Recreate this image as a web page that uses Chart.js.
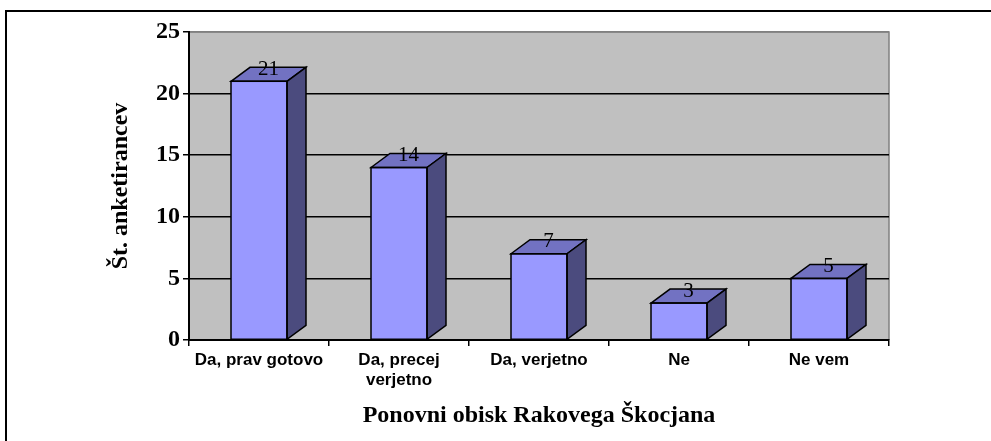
<!DOCTYPE html>
<html>
<head>
<meta charset="utf-8">
<script src="https://cdn.jsdelivr.net/npm/chart.js@4/dist/chart.umd.min.js"></script>
<style>
  html, body { margin: 0; padding: 0; background: #fff; }
  #wrap { position: relative; width: 991px; height: 441px; }
</style>
</head>
<body>
<div id="wrap"><canvas id="c" width="991" height="441"></canvas></div>
<script>
const categories = ['Da, prav gotovo', ['Da, precej', 'verjetno'], 'Da, verjetno', 'Ne', 'Ne vem'];
const values = [21, 14, 7, 3, 5];
const yAxisTitle = 'Št. anketirancev';
const xAxisTitle = 'Ponovni obisk Rakovega Škocjana';
const yMin = 0, yMax = 25, yStep = 5;

const DEPTH_X = 19, DEPTH_Y = 14;

const bgPlugin = {
  id: 'bg',
  beforeDraw(chart) {
    const { ctx, chartArea: a } = chart;
    ctx.save();
    ctx.fillStyle = '#C0C0C0';
    ctx.fillRect(a.left, a.top, a.right - a.left, a.bottom - a.top);
    ctx.strokeStyle = '#808080';
    ctx.lineWidth = 1.5;
    ctx.beginPath();
    ctx.moveTo(a.left, a.top);
    ctx.lineTo(a.right, a.top);
    ctx.lineTo(a.right, a.bottom);
    ctx.stroke();
    ctx.restore();
  },
  afterDraw(chart) {
    const { ctx } = chart;
    ctx.save();
    ctx.strokeStyle = '#000';
    ctx.lineWidth = 2;
    ctx.beginPath();
    ctx.moveTo(6, 441);
    ctx.lineTo(6, 11);
    ctx.lineTo(991, 11);
    ctx.stroke();
    ctx.restore();
  }
};

const bar3d = {
  id: 'bar3d',
  afterDatasetsDraw(chart) {
    const { ctx } = chart;
    const meta = chart.getDatasetMeta(0);
    ctx.save();
    ctx.lineWidth = 1.5;
    ctx.strokeStyle = '#000';
    ctx.lineJoin = 'miter';
    meta.data.forEach((bar, i) => {
      const p = bar.getProps(['x', 'y', 'base', 'width'], true);
      const l = p.x - p.width / 2, r = p.x + p.width / 2, t = p.y, b = p.base;
      // top face
      ctx.beginPath();
      ctx.moveTo(l, t);
      ctx.lineTo(l + DEPTH_X, t - DEPTH_Y);
      ctx.lineTo(r + DEPTH_X, t - DEPTH_Y);
      ctx.lineTo(r, t);
      ctx.closePath();
      ctx.fillStyle = '#7272C2';
      ctx.fill();
      ctx.stroke();
      // side face
      ctx.beginPath();
      ctx.moveTo(r, t);
      ctx.lineTo(r + DEPTH_X, t - DEPTH_Y);
      ctx.lineTo(r + DEPTH_X, b - DEPTH_Y);
      ctx.lineTo(r, b);
      ctx.closePath();
      ctx.fillStyle = '#4B4B7E';
      ctx.fill();
      ctx.stroke();
      // front outline
      ctx.strokeRect(l, t, p.width, b - t);
      // label
      ctx.fillStyle = '#000';
      ctx.font = '21px "Liberation Serif", "Times New Roman", serif';
      ctx.textAlign = 'center';
      ctx.textBaseline = 'middle';
      ctx.fillText(String(values[i]), p.x + DEPTH_X / 2, t - 12);
    });
    ctx.restore();
  }
};

new Chart(document.getElementById('c'), {
  type: 'bar',
  data: {
    labels: categories,
    datasets: [{
      data: values,
      backgroundColor: '#9999FF',
      borderColor: '#000',
      borderWidth: 0,
      categoryPercentage: 0.8,
      barPercentage: 0.5
    }]
  },
  options: {
    responsive: false,
    animation: false,
    events: [],
    layout: { padding: { top: 32, right: 102, left: 0, bottom: 0 } },
    plugins: { legend: { display: false }, tooltip: { enabled: false } },
    scales: {
      x: {
        afterFit(s) { s.height = 101; },
        grid: { display: true, drawOnChartArea: false, tickLength: 6, color: '#000', lineWidth: 1.5, offset: true },
        border: { display: true, color: '#000', width: 2 },
        ticks: {
          autoSkip: false, maxRotation: 0, minRotation: 0, padding: 4,
          color: '#000',
          font: { family: '"Liberation Sans", Arial, sans-serif', size: 17, weight: 'bold', lineHeight: 1.2 }
        },
        title: {
          display: true, text: xAxisTitle, color: '#000',
          font: { family: '"Liberation Serif", "Times New Roman", serif', size: 24, weight: 'bold', lineHeight: 1.2 },
          padding: { top: 0, bottom: 11 }
        }
      },
      y: {
        min: yMin, max: yMax,
        afterFit(s) { s.width = 189; },
        grid: {
          tickLength: 6,
          lineWidth: 1.5,
          color: (c) => (c.tick && c.tick.value === yMax ? '#808080' : '#000'),
          tickColor: '#000'
        },
        border: { display: true, color: '#000', width: 2 },
        ticks: {
          stepSize: yStep, padding: 3, color: '#000',
          font: { family: '"Liberation Serif", "Times New Roman", serif', size: 24, weight: 'bold' }
        },
        title: {
          display: true, text: yAxisTitle, color: '#000',
          font: { family: '"Liberation Serif", "Times New Roman", serif', size: 24, weight: 'bold', lineHeight: 1.2 },
          padding: { top: 106, bottom: 0 }
        }
      }
    }
  },
  plugins: [bgPlugin, bar3d]
});
</script>
</body>
</html>
